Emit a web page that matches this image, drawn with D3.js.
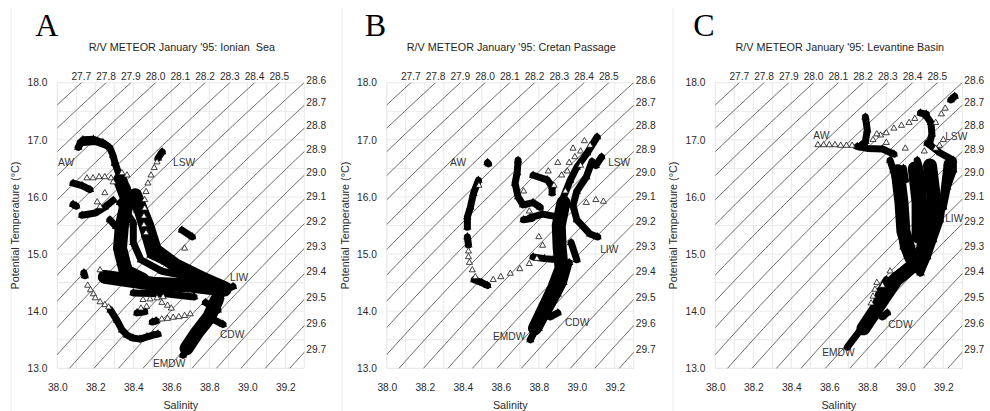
<!DOCTYPE html>
<html>
<head>
<meta charset="utf-8">
<script src="https://cdn.jsdelivr.net/npm/d3@7"></script>
<style>
  body { margin: 0; background: #fff; }
</style>
</head>
<body>
<svg id="chart" width="990" height="411"></svg>
<script>
// ---- axes and isopycnals ----
const salinityDomain = [38.0, 39.3];
const temperatureDomain = [13.0, 18.0];
const salinityTicks = [38.0, 38.2, 38.4, 38.6, 38.8, 39.0, 39.2];
const temperatureTicks = [13.0, 14.0, 15.0, 16.0, 17.0, 18.0];
const salinityGrid = [38.1, 38.2, 38.3, 38.4, 38.5, 38.6, 38.7, 38.8, 38.9, 39.0, 39.1, 39.2, 39.3];
const temperatureGrid = [13.5, 14.0, 14.5, 15.0, 15.5, 16.0, 16.5, 17.0, 17.5, 18.0];
const isopycnalLevels = [27.7, 27.8, 27.9, 28.0, 28.1, 28.2, 28.3, 28.4, 28.5, 28.6, 28.7,
                         28.8, 28.9, 29.0, 29.1, 29.2, 29.3, 29.4, 29.5, 29.6, 29.7];

// ---- panel text ----
const panelLetters = ["A", "B", "C"];
const panelTitles = [
  "R/V METEOR January '95: Ionian  Sea",
  "R/V METEOR January '95: Cretan Passage",
  "R/V METEOR January '95: Levantine Basin"
];
const waterMasses = ["AW", "LSW", "LIW", "CDW", "EMDW"];

// ---- Ionian Sea ----
const ionianLabelAnchors = [[38.004, 16.59], [38.609, 16.59], [38.909, 14.58], [38.856, 13.58], [38.504, 13.07]];
const ionianCore = [
  [[38.33, 16.3], [38.37, 15.95], [38.34, 15.5], [38.33, 15.1], [38.36, 14.7], [38.45, 14.55]],
  [[38.41, 16.03], [38.472, 15.51], [38.514, 15.07], [38.619, 14.81], [38.777, 14.55], [38.883, 14.4]],
  [[38.25, 14.6], [38.5, 14.48], [38.7, 14.45], [38.88, 14.38]],
  [[38.84, 14.2], [38.8, 13.9], [38.73, 13.6], [38.68, 13.35]]
];
const ionianDense = [
  [[38.11, 16.87], [38.135, 17.0], [38.19, 17.01], [38.24, 16.95], [38.277, 16.86], [38.293, 16.73], [38.304, 16.59]],
  [[38.12, 16.95], [38.2, 16.97], [38.26, 16.9]],
  [[38.304, 16.59], [38.33, 16.35], [38.367, 16.17], [38.383, 16.0], [38.367, 15.72], [38.346, 15.42], [38.346, 15.12],
   [38.367, 14.84], [38.398, 14.54], [38.49, 14.46], [38.62, 14.46], [38.75, 14.4], [38.83, 14.37]],
  [[38.357, 16.12], [38.42, 15.77], [38.46, 15.33], [38.49, 14.98], [38.567, 14.86], [38.672, 14.68], [38.777, 14.54], [38.867, 14.45]],
  [[38.33, 15.9], [38.4, 15.55], [38.4, 15.2], [38.44, 14.9], [38.55, 14.7], [38.7, 14.6]],
  [[38.4, 14.32], [38.58, 14.3], [38.72, 14.25]],
  [[38.53, 16.68], [38.552, 16.79]],
  [[38.083, 16.24], [38.13, 16.2], [38.172, 16.13]],
  [[38.083, 15.87], [38.1, 15.84]],
  [[38.13, 15.68], [38.2, 15.72], [38.25, 15.82], [38.294, 15.94]],
  [[38.277, 15.6], [38.31, 15.48]],
  [[38.656, 15.42], [38.71, 15.3]],
  [[38.14, 14.67], [38.145, 14.62]],
  [[38.28, 14.02], [38.314, 13.84], [38.341, 13.67], [38.367, 13.58], [38.398, 13.53], [38.435, 13.51], [38.472, 13.55], [38.504, 13.58], [38.53, 13.6]],
  [[38.42, 13.97], [38.46, 13.99]],
  [[38.5, 13.81], [38.52, 13.83]],
  [[38.75, 14.54], [38.88, 14.37], [38.925, 14.43]],
  [[38.78, 14.15], [38.845, 14.02]],
  [[38.8, 14.4], [38.86, 14.25]],
  [[38.845, 14.19], [38.814, 13.93], [38.751, 13.67], [38.698, 13.4], [38.662, 13.23]],
  [[38.83, 13.84], [38.872, 13.77]]
];
const ionianSparse = [
  [38.525, 16.61], [38.51, 16.51], [38.493, 16.38], [38.477, 16.24], [38.467, 16.09], [38.46, 15.95],
  [38.46, 15.8], [38.456, 15.66], [38.456, 15.51], [38.467, 15.37],
  [38.156, 16.33], [38.188, 16.33], [38.22, 16.35], [38.25, 16.35], [38.283, 16.33],
  [38.294, 16.26], [38.25, 16.07], [38.21, 15.91], [38.34, 16.42], [38.367, 16.38], [38.225, 15.83],
  [38.67, 15.1], [38.225, 14.72],
  [38.16, 14.45], [38.175, 14.37], [38.19, 14.3], [38.2, 14.23], [38.225, 14.16], [38.25, 14.11], [38.27, 14.07],
  [38.451, 14.2], [38.488, 14.21], [38.525, 14.23], [38.557, 14.25],
  [38.44, 14.05], [38.47, 14.08], [38.55, 14.15], [38.58, 14.1], [38.6, 14.05],
  [38.55, 13.86], [38.58, 13.87], [38.61, 13.89], [38.64, 13.9], [38.67, 13.92], [38.7, 13.95]
];

// ---- Cretan Passage ----
const cretanLabelAnchors = [[38.333, 16.59], [39.165, 16.59], [39.123, 15.07], [38.938, 13.79], [38.559, 13.55]];
const cretanCore = [
  [[38.93, 15.9], [38.905, 15.5], [38.91, 15.1], [38.92, 14.75], [38.88, 14.4], [38.83, 14.05], [38.78, 13.7]]
];
const cretanDense = [
  [[38.53, 16.6], [38.535, 16.58]],
  [[38.482, 16.29], [38.456, 16.06], [38.44, 15.82], [38.424, 15.65], [38.424, 15.47]],
  [[38.424, 15.3], [38.43, 15.16]],
  [[38.46, 14.55], [38.5, 14.5], [38.53, 14.45]],
  [[38.691, 16.64], [38.686, 16.42], [38.675, 16.24], [38.691, 16.0], [38.717, 15.86], [38.77, 15.9], [38.807, 15.82]],
  [[38.77, 16.38], [38.844, 16.3], [38.87, 16.18], [38.87, 16.07]],
  [[39.107, 17.05], [39.055, 16.77], [39.0, 16.52], [38.965, 16.29], [38.93, 16.0], [38.91, 15.77], [38.9, 15.54],
   [38.91, 15.3], [38.91, 15.07], [38.91, 14.84], [38.93, 14.6], [38.9, 14.49], [38.86, 14.25], [38.82, 13.97],
   [38.79, 13.72], [38.755, 13.5]],
  [[38.96, 14.85], [38.93, 14.5], [38.9, 14.3], [38.85, 14.0], [38.8, 13.7]],
  [[39.08, 16.62], [39.05, 16.35], [39.0, 16.1], [38.98, 15.85], [39.0, 15.6], [39.07, 15.35], [39.11, 15.3]],
  [[39.13, 16.7], [39.1, 16.55]],
  [[38.755, 15.64], [38.82, 15.7], [38.9, 15.65]],
  [[38.77, 14.95], [38.83, 14.92], [38.9, 14.9]],
  [[38.9, 13.97], [38.86, 13.9]],
  [[38.72, 15.6], [38.76, 15.62]],
  [[38.97, 15.2], [39.0, 14.9]]
];
const cretanSparse = [
  [38.485, 16.2], [38.43, 14.95], [38.45, 14.72], [38.466, 14.6], [38.43, 15.05], [38.435, 14.85],
  [38.56, 14.55], [38.6, 14.6], [38.65, 14.66], [38.7, 14.74], [38.75, 14.83], [38.79, 14.92],
  [38.88, 16.2], [38.92, 16.38], [38.96, 16.6], [39.02, 16.8], [38.94, 16.1], [39.05, 15.9],
  [39.1, 15.95], [39.14, 15.92], [38.8, 15.3], [38.82, 15.15], [38.85, 16.45], [38.9, 16.6],
  [38.98, 16.85], [38.72, 16.1], [38.75, 15.75], [39.04, 16.98], [39.07, 16.9], [38.99, 16.7],
  [38.95, 16.45], [39.02, 16.55]
];

// ---- Levantine Basin ----
const levantineLabelAnchors = [[38.516, 17.07], [39.21, 17.05], [39.21, 15.6], [38.91, 13.76], [38.563, 13.27]];
const levantineCore = [
  [[38.96, 16.45], [38.98, 15.9], [38.99, 15.4], [39.03, 14.95]],
  [[39.13, 16.55], [39.15, 16.0], [39.12, 15.4], [39.08, 14.95]],
  [[39.05, 16.5], [39.07, 15.9], [39.07, 15.3]],
  [[39.06, 14.85], [38.95, 14.55], [38.87, 14.15], [38.78, 13.7]]
];
const levantineDense = [
  [[38.747, 16.88], [38.8, 16.85], [38.88, 16.84], [38.94, 16.75]],
  [[38.79, 17.4], [38.8, 17.17], [38.79, 16.97], [38.76, 16.88]],
  [[39.08, 17.47], [39.11, 17.45]],
  [[39.11, 17.42], [39.135, 17.3], [39.14, 17.1], [39.13, 16.97]],
  [[39.24, 17.7], [39.26, 17.76]],
  [[39.116, 16.94], [39.184, 16.77], [39.253, 16.64], [39.253, 16.47], [39.221, 16.17], [39.2, 15.82]],
  [[38.92, 16.64], [38.937, 16.47], [38.974, 16.0], [38.974, 15.54], [38.99, 15.12], [39.026, 14.84], [39.08, 14.67]],
  [[39.221, 16.59], [39.2, 16.0], [39.184, 15.6], [39.147, 15.25], [39.116, 14.95], [39.08, 14.67]],
  [[39.063, 16.64], [39.095, 16.29], [39.095, 15.72], [39.08, 15.12]],
  [[38.99, 16.5], [39.0, 16.3]],
  [[39.08, 14.95], [38.99, 14.72], [38.937, 14.6], [38.868, 14.37], [38.832, 14.02], [38.763, 13.67], [38.695, 13.37]],
  [[38.9, 14.55], [38.86, 14.3]],
  [[38.88, 13.9], [38.905, 13.97]]
];
const levantineSparse = [
  [38.54, 16.91], [38.57, 16.91], [38.6, 16.91], [38.63, 16.91], [38.66, 16.9], [38.69, 16.9], [38.72, 16.9],
  [38.83, 17.0], [38.87, 17.08], [38.9, 17.12], [38.94, 17.2], [38.98, 17.25], [39.02, 17.3], [39.05, 17.37],
  [39.16, 17.3], [39.19, 17.45], [39.21, 17.55],
  [38.88, 14.45], [38.92, 14.7], [39.2, 17.0], [39.18, 16.9], [38.85, 17.1], [38.9, 16.95], [39.0, 16.85],
  [39.1, 16.8], [39.16, 16.85], [38.85, 14.5], [38.84, 14.38], [38.83, 14.26], [38.82, 14.14]
];

const panels = [
  { letter: panelLetters[0], title: panelTitles[0], anchors: ionianLabelAnchors, core: ionianCore, dense: ionianDense, sparse: ionianSparse },
  { letter: panelLetters[1], title: panelTitles[1], anchors: cretanLabelAnchors, core: cretanCore, dense: cretanDense, sparse: cretanSparse },
  { letter: panelLetters[2], title: panelTitles[2], anchors: levantineLabelAnchors, core: levantineCore, dense: levantineDense, sparse: levantineSparse }
];

// Potential density anomaly, UNESCO (1980) surface equation of state
const REF_DENSITY = 999.97;
function sigmaTheta(S, T) {
  const rw = 999.842594 + 6.793952e-2 * T - 9.095290e-3 * T * T + 1.001685e-4 * T ** 3
           - 1.120083e-6 * T ** 4 + 6.536332e-9 * T ** 5;
  const b = 0.824493 - 4.0899e-3 * T + 7.6438e-5 * T * T - 8.2467e-7 * T ** 3 + 5.3875e-9 * T ** 4;
  const c = -5.72466e-3 + 1.0227e-4 * T - 1.6546e-6 * T * T;
  return rw + S * b + Math.pow(S, 1.5) * c + 4.8314e-4 * S * S - REF_DENSITY;
}
function salinityOn(level, T) {
  let S = 38.5;
  for (let i = 0; i < 30; i++) S -= (sigmaTheta(S, T) - level) / 0.77;
  return S;
}
function temperatureOn(level, S) {
  let lo = 5, hi = 25;
  for (let i = 0; i < 50; i++) {
    const mid = (lo + hi) / 2;
    if (sigmaTheta(S, mid) > level) lo = mid; else hi = mid;
  }
  return (lo + hi) / 2;
}

// ---- layout ----
const SANS = "Arial, 'Liberation Sans', sans-serif";
const SERIF = "'Liberation Serif', 'Times New Roman', 'DejaVu Serif', serif";
const svg = d3.select("#chart");
const plotLefts = [57.3, 386.8, 715.3];
const plotTop = 82.7, plotBottom = 368.3;
const pxPerSalinity = 190;

// faint chart-area frames
[11, 342, 673].forEach(fx => {
  svg.append("line").attr("x1", fx).attr("x2", fx).attr("y1", 8).attr("y2", 411)
    .attr("stroke", "#ececec").attr("stroke-width", 1);
});

const tri = d3.symbol().type(d3.symbolTriangle);

panels.forEach((p, i) => {
  const left = plotLefts[i];
  const right = left + (salinityDomain[1] - salinityDomain[0]) * pxPerSalinity;
  const x = d3.scaleLinear().domain(salinityDomain).range([left, right]);
  const y = d3.scaleLinear().domain(temperatureDomain).range([plotBottom, plotTop]);
  const g = svg.append("g").style("font-family", SANS);

  // gridlines
  g.append("g").selectAll("line").data(salinityGrid).join("line")
    .attr("x1", d => x(d)).attr("x2", d => x(d)).attr("y1", plotTop).attr("y2", plotBottom)
    .attr("stroke", "#e9e9e9").attr("stroke-width", 1);
  g.append("g").selectAll("line").data(temperatureGrid).join("line")
    .attr("x1", left).attr("x2", right).attr("y1", d => y(d)).attr("y2", d => y(d))
    .attr("stroke", "#e9e9e9").attr("stroke-width", 1);
  g.append("line").attr("x1", left).attr("x2", left).attr("y1", plotTop).attr("y2", plotBottom)
    .attr("stroke", "#e4e4e4");
  g.append("line").attr("x1", left).attr("x2", right).attr("y1", plotBottom).attr("y2", plotBottom)
    .attr("stroke", "#e4e4e4");

  // isopycnals clipped to the plot area
  const clipId = "clip" + i;
  svg.append("clipPath").attr("id", clipId).append("rect")
    .attr("x", left).attr("y", plotTop).attr("width", right - left).attr("height", plotBottom - plotTop);
  const temps = d3.range(12.6, 18.45, 0.1);
  const iso = d3.line().x(d => x(d[0])).y(d => y(d[1]));
  g.append("g").attr("clip-path", `url(#${clipId})`)
    .selectAll("path").data(isopycnalLevels).join("path")
    .attr("d", lv => iso(temps.map(t => [salinityOn(lv, t), t])))
    .attr("fill", "none").attr("stroke", "#5a5a5a").attr("stroke-width", 0.9);

  isopycnalLevels.forEach(lv => {
    const sTop = salinityOn(lv, temperatureDomain[1]);
    if (sTop < 39.25) {
      if (sTop >= salinityDomain[0]) {
        g.append("text").attr("x", x(sTop)).attr("y", plotTop - 3)
          .attr("text-anchor", "middle").attr("font-size", 10.2).attr("fill", "#2a2a2a")
          .text(lv.toFixed(1));
      }
    } else {
      const tRight = temperatureOn(lv, salinityDomain[1]);
      if (tRight >= temperatureDomain[0]) {
        g.append("text").attr("x", right + 2).attr("y", y(tRight) - 1.5)
          .attr("dominant-baseline", "middle").attr("font-size", 10.2).attr("fill", "#2a2a2a")
          .text(lv.toFixed(1));
      }
    }
  });

  // axes
  const xAxis = g.append("g").attr("transform", `translate(0,${plotBottom})`)
    .call(d3.axisBottom(x).tickValues(salinityTicks).tickSize(0).tickPadding(15).tickFormat(d3.format(".1f")));
  const yAxis = g.append("g").attr("transform", `translate(${left},0)`)
    .call(d3.axisLeft(y).tickValues(temperatureTicks).tickSize(0).tickPadding(10).tickFormat(d3.format(".1f")));
  [xAxis, yAxis].forEach(a => {
    a.select(".domain").remove();
    a.attr("font-family", SANS).attr("font-size", 10.2);
    a.selectAll("text").attr("fill", "#2a2a2a");
  });

  g.append("text").attr("x", (left + right) / 2).attr("y", 408.5).attr("text-anchor", "middle")
    .attr("font-size", 10.8).attr("fill", "#2a2a2a").text("Salinity");
  g.append("text").attr("transform", `translate(${left - 38},${(plotTop + plotBottom) / 2}) rotate(-90)`)
    .attr("text-anchor", "middle").attr("font-size", 10.8).attr("fill", "#2a2a2a")
    .text("Potential Temperature (°C)");

  // title and panel letter
  g.append("text").attr("x", (left + right) / 2 + 1).attr("y", 50.5).attr("text-anchor", "middle")
    .attr("font-size", 10.8).attr("fill", "#1e1e1e").style("white-space", "pre").text(p.title);
  g.append("text").attr("x", left - 22).attr("y", 36)
    .style("font-family", SERIF).attr("font-size", 32)
    .attr("fill", "#000").text(p.letter);

  // observations: cores of overlapping profiles, runs of markers, isolated markers
  const run = d3.line().x(d => x(d[0])).y(d => y(d[1]));
  g.append("g").selectAll("path").data(p.core).join("path")
    .attr("d", run).attr("fill", "none").attr("stroke", "#000").attr("stroke-width", 14)
    .attr("stroke-linecap", "round").attr("stroke-linejoin", "round");
  g.append("g").selectAll("path").data(p.dense).join("path")
    .attr("d", run).attr("fill", "none").attr("stroke", "#000").attr("stroke-width", 7)
    .attr("stroke-linecap", "round").attr("stroke-linejoin", "round");
  g.append("g").selectAll("path").data(p.dense.flat()).join("path")
    .attr("transform", d => `translate(${x(d[0])},${y(d[1])})`)
    .attr("d", tri.size(30)()).attr("fill", "#000");
  g.append("g").selectAll("path").data(p.sparse).join("path")
    .attr("transform", d => `translate(${x(d[0])},${y(d[1])})`)
    .attr("d", tri.size(16)()).attr("fill", "#fff").attr("stroke", "#111").attr("stroke-width", 0.8);

  // water-mass labels
  g.append("g").selectAll("text").data(p.anchors).join("text")
    .attr("x", d => x(d[0])).attr("y", d => y(d[1]))
    .attr("dominant-baseline", "middle").attr("font-size", 10.2).attr("fill", "#333")
    .text((d, k) => waterMasses[k]);
});
</script>
</body>
</html>
